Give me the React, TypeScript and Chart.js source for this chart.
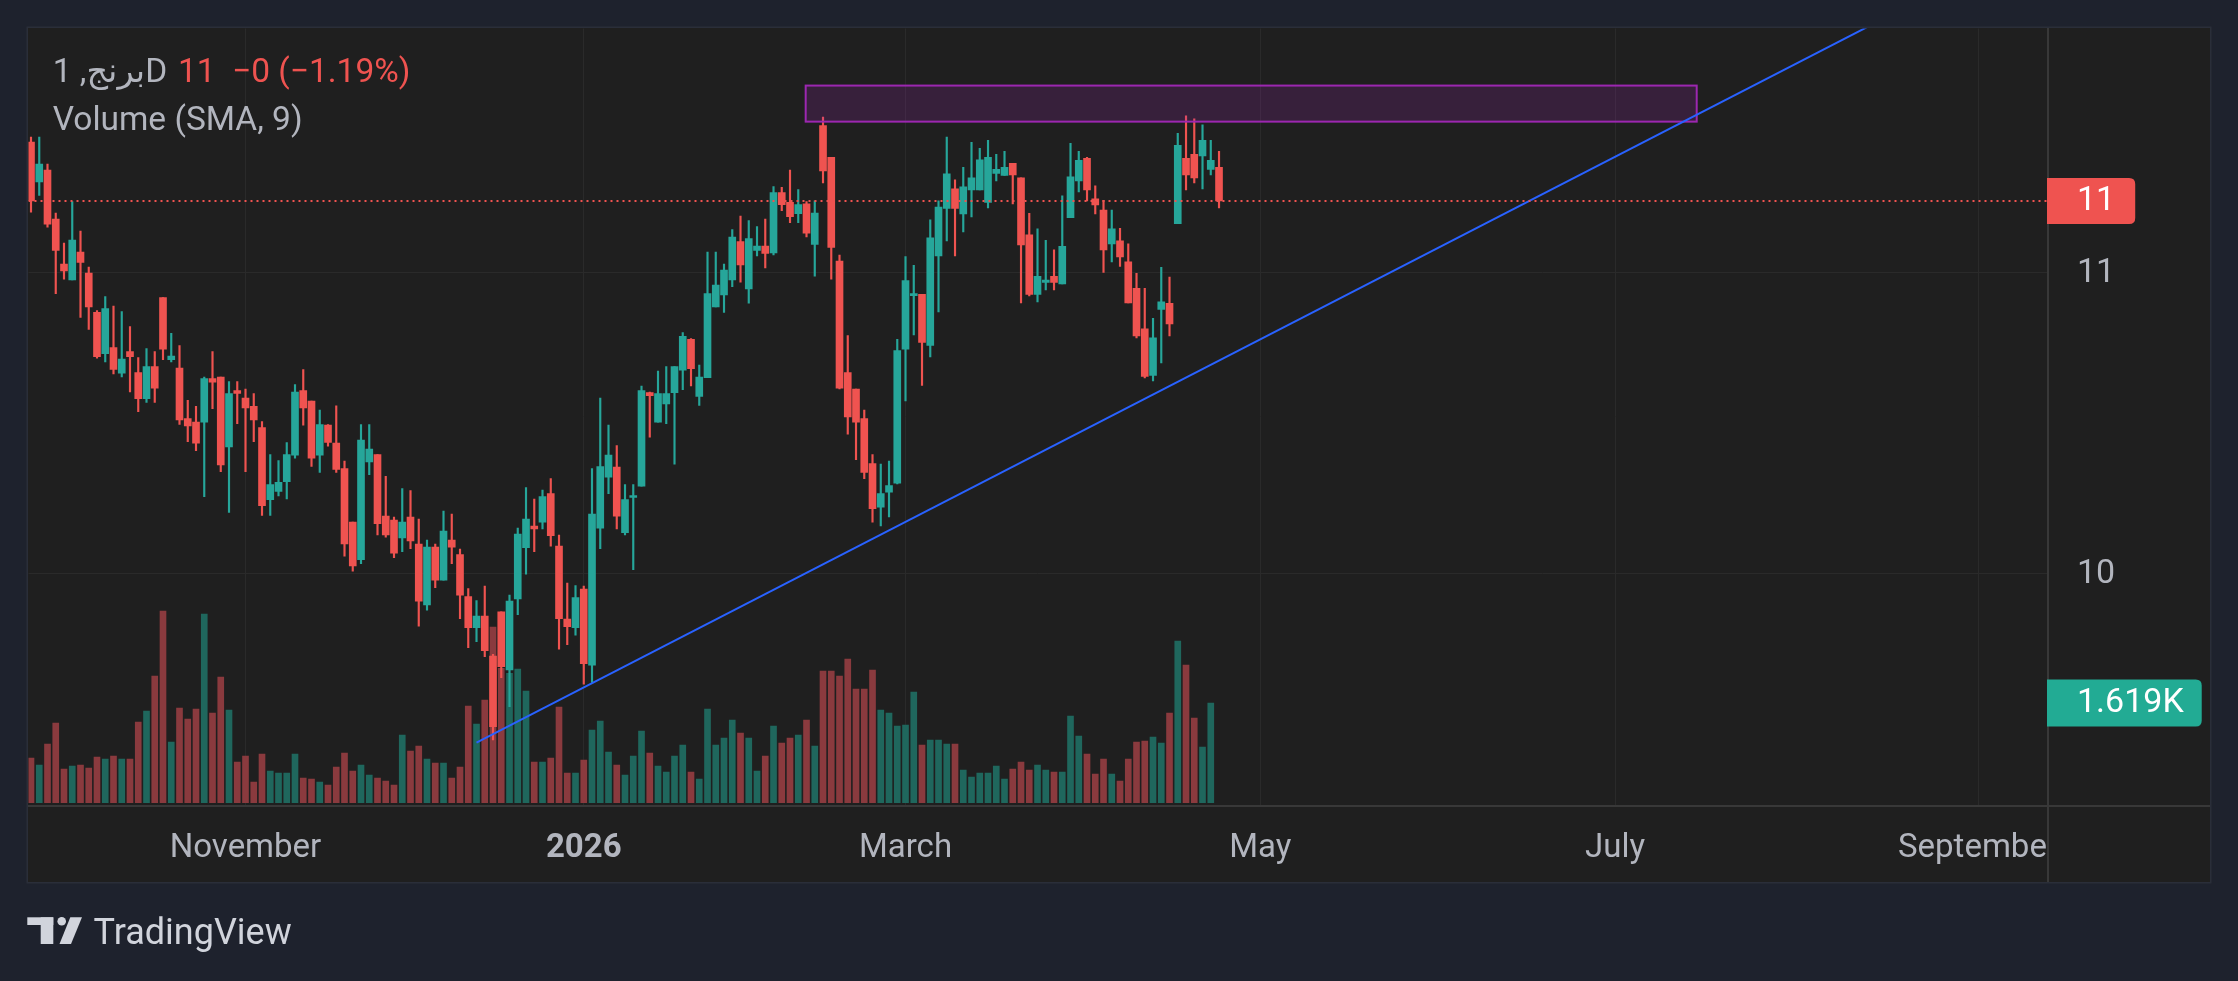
import React, { useEffect, useRef } from "react";
import { Chart, registerables } from "chart.js";
Chart.register(...registerables);

const W = 2238;
const H = 981;

const SYMBOL = "برنج, 1D";
const INDICATOR = "Volume (SMA, 9)";

const OPEN = [
  11.435, 11.302, 11.342, 11.179, 11.029, 10.976, 11.069, 10.999, 10.868, 10.731,
  10.751, 10.666, 10.738, 10.668, 10.581, 10.688, 10.917, 10.711, 10.683, 10.515,
  10.503, 10.503, 10.648, 10.653, 10.42, 10.608, 10.583, 10.555, 10.485, 10.245,
  10.272, 10.305, 10.393, 10.608, 10.573, 10.393, 10.493, 10.433, 10.348, 10.17,
  10.045, 10.37, 10.395, 10.19, 10.177, 10.117, 10.187, 10.097, 9.894, 10.087,
  9.977, 10.11, 10.062, 9.922, 9.819, 9.857, 9.724, 9.871, 9.678, 9.914,
  10.085, 10.157, 10.17, 10.265, 10.09, 9.847, 9.819, 9.947, 9.694, 10.15,
  10.32, 10.353, 10.135, 10.252, 10.29, 10.601, 10.503, 10.563, 10.601, 10.676,
  10.778, 10.588, 10.651, 10.886, 10.926, 10.976, 11.104, 10.946, 11.074, 11.089,
  11.066, 11.267, 11.234, 11.197, 11.229, 11.094, 11.49, 11.384, 11.039, 10.668,
  10.613, 10.515, 10.365, 10.22, 10.27, 10.3, 10.746, 10.924, 10.928, 10.758,
  11.056, 11.214, 11.279, 11.196, 11.276, 11.276, 11.234, 11.331, 11.324, 11.364,
  11.316, 11.126, 10.928, 10.968, 10.988, 10.963, 11.183, 11.306, 11.381, 11.246,
  11.209, 11.096, 11.106, 11.036, 10.948, 10.813, 10.658, 10.878, 10.898, 11.163,
  11.381, 11.394, 11.389, 11.344, 11.351,
];
const HIGH = [
  11.452, 11.452, 11.362, 11.199, 11.099, 11.237, 11.139, 11.019, 10.874, 10.921,
  10.889, 10.871, 10.821, 10.718, 10.748, 10.738, 10.917, 10.798, 10.758, 10.575,
  10.555, 10.653, 10.738, 10.653, 10.638, 10.638, 10.613, 10.598, 10.505, 10.395,
  10.375, 10.435, 10.628, 10.678, 10.573, 10.543, 10.495, 10.557, 10.373, 10.17,
  10.495, 10.495, 10.395, 10.322, 10.187, 10.282, 10.275, 10.18, 10.11, 10.097,
  10.207, 10.197, 10.08, 9.949, 9.909, 9.957, 9.73, 9.871, 9.927, 10.15,
  10.285, 10.247, 10.277, 10.315, 10.127, 9.967, 9.959, 9.957, 10.348, 10.583,
  10.493, 10.425, 10.295, 10.295, 10.623, 10.603, 10.673, 10.688, 10.688, 10.801,
  10.781, 10.693, 11.069, 11.069, 11.029, 11.144, 11.189, 11.174, 11.154, 11.179,
  11.287, 11.284, 11.342, 11.277, 11.237, 11.239, 11.518, 11.384, 11.059, 10.791,
  10.613, 10.543, 10.395, 10.363, 10.373, 10.778, 11.054, 11.025, 10.928, 11.176,
  11.239, 11.452, 11.309, 11.351, 11.434, 11.414, 11.441, 11.394, 11.404, 11.364,
  11.316, 11.198, 11.146, 11.108, 11.076, 11.256, 11.431, 11.404, 11.384, 11.289,
  11.241, 11.209, 11.148, 11.096, 10.998, 10.948, 10.848, 11.018, 10.986, 11.464,
  11.522, 11.512, 11.492, 11.441, 11.404,
];
const LOW = [
  11.202, 11.257, 11.152, 10.93, 10.979, 10.976, 10.851, 10.811, 10.716, 10.703,
  10.663, 10.653, 10.603, 10.538, 10.568, 10.568, 10.711, 10.703, 10.495, 10.438,
  10.408, 10.255, 10.548, 10.338, 10.202, 10.498, 10.338, 10.438, 10.192, 10.192,
  10.257, 10.247, 10.383, 10.493, 10.355, 10.335, 10.423, 10.335, 10.057, 10.007,
  10.032, 10.328, 10.127, 10.12, 10.052, 10.072, 10.082, 9.824, 9.877, 9.952,
  9.977, 10.032, 9.849, 9.752, 9.772, 9.722, 9.445, 9.652, 9.556, 9.862,
  9.997, 10.072, 10.147, 10.09, 9.747, 9.762, 9.794, 9.631, 9.636, 10.082,
  10.265, 10.147, 10.127, 10.012, 10.29, 10.453, 10.503, 10.498, 10.363, 10.611,
  10.623, 10.558, 10.651, 10.886, 10.868, 10.954, 10.969, 10.899, 11.056, 11.016,
  11.059, 11.207, 11.167, 11.167, 11.119, 10.989, 11.299, 10.979, 10.613, 10.463,
  10.378, 10.315, 10.17, 10.157, 10.187, 10.297, 10.573, 10.793, 10.625, 10.72,
  10.87, 11.106, 11.056, 11.136, 11.186, 11.276, 11.216, 11.306, 11.324, 11.229,
  10.9, 10.923, 10.903, 10.943, 10.943, 10.963, 11.183, 11.269, 11.239, 11.196,
  11.001, 11.036, 11.021, 10.9, 10.783, 10.65, 10.64, 10.7, 10.79, 11.163,
  11.276, 11.299, 11.279, 11.326, 11.216,
];
const CLOSE = [
  11.239, 11.362, 11.162, 11.074, 11.006, 11.109, 11.034, 10.886, 10.721, 10.881,
  10.678, 10.713, 10.721, 10.581, 10.688, 10.616, 10.746, 10.723, 10.51, 10.49,
  10.433, 10.648, 10.636, 10.36, 10.598, 10.598, 10.55, 10.51, 10.225, 10.295,
  10.302, 10.395, 10.603, 10.55, 10.383, 10.495, 10.435, 10.345, 10.097, 10.024,
  10.443, 10.413, 10.165, 10.127, 10.067, 10.17, 10.107, 9.907, 10.087, 9.977,
  10.14, 10.087, 9.927, 9.819, 9.857, 9.742, 9.489, 9.689, 9.907, 10.13,
  10.18, 10.147, 10.255, 10.125, 9.849, 9.822, 9.919, 9.699, 10.197, 10.355,
  10.393, 10.19, 10.245, 10.257, 10.608, 10.591, 10.598, 10.598, 10.688, 10.788,
  10.681, 10.653, 10.931, 10.959, 11.009, 11.119, 11.026, 11.114, 11.089, 11.064,
  11.267, 11.227, 11.187, 11.227, 11.132, 11.199, 11.339, 11.084, 10.616, 10.52,
  10.503, 10.335, 10.215, 10.265, 10.292, 10.741, 10.974, 10.926, 10.768, 11.116,
  11.219, 11.329, 11.214, 11.286, 11.316, 11.376, 11.384, 11.344, 11.351, 11.326,
  11.093, 10.928, 10.988, 10.976, 10.968, 11.088, 11.319, 11.374, 11.276, 11.226,
  11.076, 11.146, 11.053, 10.9, 10.79, 10.655, 10.783, 10.903, 10.83, 11.424,
  11.326, 11.316, 11.441, 11.374, 11.239,
];
const VOLUME: (number | null)[] = [
  725, 611, 952, 1293, 547, 595, 611, 563, 741, 709,
  758, 709, 709, 1309, 1488, 2056, 3111, 985, 1537, 1358,
  1520, 3063, 1456, 2040, 1504, 660, 758, 335, 790, 514,
  482, 482, 790, 400, 384, 335, 287, 579, 806, 514,
  611, 449, 400, 352, 287, 1098, 839, 920, 709, 644,
  644, 400, 579, 1569, 1277, 1667, 2852, 2181, 2100, 2170,
  1813, 660, 660, 725, 1553, 482, 482, 693, 1180, 1326,
  822, 611, 449, 758, 1163, 806, 595, 498, 758, 936,
  498, 384, 1520, 936, 1050, 1342, 1131, 1050, 514, 758,
  1245, 969, 1050, 1098, 1342, 920, 2137, 2137, 2056, 2332,
  1845, 1845, 2154, 1504, 1456, 1245, 1261, 1796, 936, 1017,
  1017, 952, 952, 530, 417, 482, 482, 595, 384, 547,
  660, 530, 611, 530, 498, 498, 1407, 1082, 790, 465,
  709, 465, 352, 709, 985, 1001, 1066, 969, 1456, 2624,
  2235, 1374, 904, 1619, null,
];

// time axis: bar index of first session of each labelled month
const MONTH_TICKS = [26, 67, 106, 149, 192, 236];
const MONTH_LABELS = ["November", "2026", "March", "May", "July", "September"];
const PRICE_TICKS = [10, 11];

// drawings (bar index, price)
const TREND_POINTS = [
  { x: 54, y: 9.436 },
  { x: 222.3, y: 11.814 },
];
const ZONE = { x0: 93.9, x1: 201.9, low: 11.503, high: 11.623 };

const X_MIN = -0.303;
const X_MAX = 244.36;
const P_MIN = 9.2284;
const P_MAX = 11.813;
const V_MIN = -37;
const V_MAX = 12565;

const UP = "#26a69a";
const DOWN = "#ef5350";
const VOL_UP = "#1f675d";
const VOL_DOWN = "#8a3a3e";
const TEXT = "#b2b5be";
const GRID = "#2a2a2a";
const PAGE_BG = "#1e222d";
const PANEL_BG = "#1f1f1f";
const SEP = "#383838";
const FONT = "Roboto, 'DejaVu Sans', 'Noto Sans', sans-serif";

function roundRightRect(c: any, x: number, y: number, w: number, h: number, r: number) {
  c.beginPath();
  c.moveTo(x, y);
  c.lineTo(x + w - r, y);
  c.quadraticCurveTo(x + w, y, x + w, y + r);
  c.lineTo(x + w, y + h - r);
  c.quadraticCurveTo(x + w, y + h, x + w - r, y + h);
  c.lineTo(x, y + h);
  c.closePath();
}

export default function App() {
  const ref = useRef<HTMLCanvasElement>(null);

  useEffect(() => {
    document.body.style.margin = "0";
    document.body.style.background = PAGE_BG;
    const canvas = ref.current!;
    const idx = CLOSE.map((_, i) => i);
    const isUp = idx.map((i) => CLOSE[i] >= OPEN[i]);
    const candleColors = isUp.map((u) => (u ? UP : DOWN));
    const volColors = isUp.map((u) => (u ? VOL_UP : VOL_DOWN));
    const last = CLOSE.length - 1;
    let lastVol = VOLUME.length - 1;
    while (lastVol > 0 && VOLUME[lastVol] == null) lastVol--;

    const decor = {
      id: "decor",
      beforeDraw(chart: any) {
        const c = chart.ctx;
        c.save();
        c.fillStyle = PAGE_BG;
        c.fillRect(0, 0, W, H);
        c.fillStyle = PANEL_BG;
        c.fillRect(28, 28, 2182, 854);
        c.strokeStyle = "#2a2e39";
        c.lineWidth = 1.5;
        c.strokeRect(27.25, 27.25, 2183.5, 855.5);
        c.restore();
      },
      afterDatasetsDraw(chart: any) {
        const c = chart.ctx;
        const xs = chart.scales.x;
        const ys = chart.scales.y;
        const a = chart.chartArea;
        c.save();
        c.beginPath();
        c.rect(a.left, a.top, a.right - a.left, a.bottom - a.top);
        c.clip();
        // zone rectangle
        const zx0 = xs.getPixelForValue(ZONE.x0);
        const zx1 = xs.getPixelForValue(ZONE.x1);
        const zy0 = ys.getPixelForValue(ZONE.high);
        const zy1 = ys.getPixelForValue(ZONE.low);
        c.fillStyle = "rgba(156,39,176,0.2)";
        c.fillRect(zx0, zy0, zx1 - zx0, zy1 - zy0);
        c.strokeStyle = "#9c27b0";
        c.lineWidth = 2;
        c.strokeRect(zx0, zy0, zx1 - zx0, zy1 - zy0);
        // trend line (extended to the right)
        const ax = xs.getPixelForValue(TREND_POINTS[0].x);
        const ay = ys.getPixelForValue(TREND_POINTS[0].y);
        const bx = xs.getPixelForValue(TREND_POINTS[1].x);
        const by = ys.getPixelForValue(TREND_POINTS[1].y);
        c.strokeStyle = "#2962ff";
        c.lineWidth = 2;
        c.beginPath();
        c.moveTo(ax, ay);
        c.lineTo(ax + (bx - ax) * 3, ay + (by - ay) * 3);
        c.stroke();
        // last price line
        const py = ys.getPixelForValue(CLOSE[last]);
        c.strokeStyle = DOWN;
        c.lineWidth = 2;
        c.setLineDash([2, 4]);
        c.beginPath();
        c.moveTo(a.left, py);
        c.lineTo(a.right, py);
        c.stroke();
        c.restore();
      },
      afterDraw(chart: any) {
        const c = chart.ctx;
        const xs = chart.scales.x;
        const ys = chart.scales.y;
        const vs = chart.scales.yv;
        const a = chart.chartArea;
        c.save();
        // separators
        c.fillStyle = SEP;
        c.fillRect(a.right, 28, 2, 854);
        c.fillRect(28, a.bottom, 2182, 2);

        // time axis labels (clipped at the price scale)
        c.save();
        c.beginPath();
        c.rect(a.left, a.bottom + 2, a.right - a.left, 75);
        c.clip();
        c.fillStyle = TEXT;
        c.textAlign = "center";
        c.textBaseline = "alphabetic";
        MONTH_TICKS.forEach((t, k) => {
          const lbl = MONTH_LABELS[k];
          c.font = (/^\d{4}$/.test(lbl) ? "bold " : "") + "33px " + FONT;
          c.fillText(lbl, xs.getPixelForValue(t), 857);
        });
        c.restore();

        // price scale labels
        c.font = "34px " + FONT;
        c.textAlign = "left";
        c.textBaseline = "middle";
        c.fillStyle = TEXT;
        PRICE_TICKS.forEach((t) => {
          c.fillText(String(t), a.right + 30, ys.getPixelForValue(t) + 1);
        });

        // last price label
        const py = ys.getPixelForValue(CLOSE[last]);
        const pTxt = CLOSE[last].toFixed(0);
        const pw = 30 + c.measureText(pTxt).width + 20;
        c.fillStyle = isUp[last] ? UP : DOWN;
        roundRightRect(c, a.right, py - 23, pw, 46, 6);
        c.fill();
        c.fillStyle = "#ffffff";
        c.fillText(pTxt, a.right + 30, py + 1);

        // volume label
        const vv = VOLUME[lastVol] as number;
        const vy = vs.getPixelForValue(vv);
        const vTxt = (vv / 1000).toFixed(3) + "K";
        const vw = 30 + c.measureText(vTxt).width + 18;
        c.fillStyle = isUp[lastVol] ? "#22ab94" : DOWN;
        roundRightRect(c, a.right, vy - 23.5, vw, 47, 6);
        c.fill();
        c.fillStyle = "#ffffff";
        c.fillText(vTxt, a.right + 30, vy + 1);

        // legend
        const prev = CLOSE[last - 1];
        const chg = CLOSE[last] - prev;
        const pct = (chg / prev) * 100;
        const sign = (v: number) => (v < 0 ? "\u2212" : "+");
        c.textBaseline = "alphabetic";
        c.font = "33.5px " + FONT;
        c.fillStyle = TEXT;
        c.fillText(SYMBOL, 52.7, 82);
        c.fillStyle = isUp[last] ? UP : DOWN;
        c.fillText(CLOSE[last].toFixed(0), 178, 82);
        c.fillText(
          sign(chg) + Math.abs(chg).toFixed(0) + " (" + sign(pct) + Math.abs(pct).toFixed(2) + "%)",
          232,
          82
        );
        c.fillStyle = TEXT;
        c.fillText(INDICATOR, 52.7, 130);

        // TradingView logo
        c.fillStyle = "#d1d4dc";
        c.fillRect(27.3, 917.3, 26, 7.7);
        c.fillRect(40.7, 917.3, 12.6, 26.7);
        c.beginPath();
        c.arc(61.7, 921.3, 4.3, 0, Math.PI * 2);
        c.fill();
        c.beginPath();
        c.moveTo(70.3, 917.3);
        c.lineTo(82, 917.3);
        c.lineTo(71, 944);
        c.lineTo(59.5, 944);
        c.closePath();
        c.fill();
        c.font = "36px " + FONT;
        c.fillText("TradingView", 93.5, 944);
        c.restore();
      },
    };

    const chart = new Chart(canvas, {
      type: "bar",
      data: {
        datasets: [
          {
            label: "Volume",
            data: VOLUME.map((v, i) => ({ x: i, y: v })) as any,
            yAxisID: "yv",
            backgroundColor: volColors,
            barThickness: 6,
            grouped: false,
            order: 3,
          } as any,
          {
            label: "Wick",
            data: idx.map((i) => ({ x: i, y: [LOW[i], HIGH[i]] })) as any,
            yAxisID: "y",
            backgroundColor: candleColors,
            barThickness: 1.5,
            grouped: false,
            order: 2,
          } as any,
          {
            label: "Body",
            data: idx.map((i) => ({ x: i, y: [OPEN[i], CLOSE[i]] })) as any,
            yAxisID: "y",
            backgroundColor: candleColors,
            barThickness: 7,
            minBarLength: 2,
            grouped: false,
            order: 1,
          } as any,
        ],
      },
      options: {
        responsive: false,
        animation: false,
        devicePixelRatio: 1,
        events: [],
        layout: { padding: { left: 28.5, top: 28.5, right: 28, bottom: 98.3 } },
        plugins: { legend: { display: false }, tooltip: { enabled: false } },
        scales: {
          x: {
            type: "linear",
            min: X_MIN,
            max: X_MAX,
            offset: false,
            afterBuildTicks: (s: any) => {
              s.ticks = MONTH_TICKS.map((v) => ({ value: v }));
            },
            afterFit: (s: any) => {
              s.height = 77.7;
            },
            ticks: { display: false },
            grid: { color: GRID, drawTicks: false, offset: false },
            border: { display: false },
          },
          y: {
            type: "linear",
            position: "right",
            min: P_MIN,
            max: P_MAX,
            afterBuildTicks: (s: any) => {
              s.ticks = PRICE_TICKS.map((v) => ({ value: v }));
            },
            afterFit: (s: any) => {
              s.width = 163;
            },
            ticks: { display: false },
            grid: { color: GRID, drawTicks: false },
            border: { display: false },
          },
          yv: {
            type: "linear",
            display: false,
            min: V_MIN,
            max: V_MAX,
            grid: { display: false },
          },
        } as any,
      },
      plugins: [decor],
    } as any);

    return () => chart.destroy();
  }, []);

  return (
    <div style={{ width: W, height: H }}>
      <canvas ref={ref} width={W} height={H} style={{ display: "block", width: W, height: H }} />
    </div>
  );
}
